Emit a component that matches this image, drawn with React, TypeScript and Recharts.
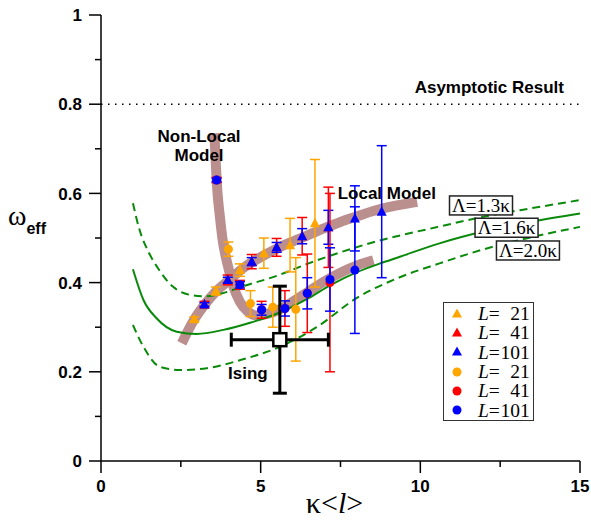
import React from 'react'
import {
  ComposedChart, Line, Scatter, XAxis, YAxis, ErrorBar, ReferenceLine, ReferenceDot,
} from 'recharts'

// kappa<l> ticks and omega ticks
const xTicks = [0, 2.5, 5, 7.5, 10, 12.5, 15]
const yTicks = [0, 0.1, 0.2, 0.3, 0.4, 0.5, 0.6, 0.7, 0.8, 0.9, 1]

// triangles
const tri21 = [
  { k: 2.92, w: 0.318, e: 0.005 }, { k: 3.6, w: 0.381, e: 0.009 }, { k: 4.35, w: 0.428, e: 0.014 },
  { k: 5.1, w: 0.466, e: 0.034 }, { k: 5.92, w: 0.484, e: 0.06 }, { k: 6.7, w: 0.533, e: 0.143 },
]
const tri41 = [
  { k: 3.24, w: 0.351, e: 0.007 }, { k: 3.97, w: 0.406, e: 0.011 }, { k: 4.72, w: 0.447, e: 0.016 },
  { k: 5.5, w: 0.479, e: 0.02 }, { k: 6.3, w: 0.504, e: 0.042 }, { k: 7.12, w: 0.524, e: 0.09 },
]
const tri101 = [
  { k: 3.24, w: 0.351, e: 0.004 }, { k: 3.97, w: 0.406, e: 0.006 }, { k: 4.72, w: 0.447, e: 0.009 },
  { k: 5.5, w: 0.479, e: 0.011 }, { k: 6.3, w: 0.504, e: 0.017 }, { k: 7.12, w: 0.524, e: 0.038 },
  { k: 7.95, w: 0.544, e: 0.073 }, { k: 8.79, w: 0.559, e: 0.148 },
]
// circles
const circ21 = [
  { k: 3.99, w: 0.475, e: 0.016 }, { k: 4.68, w: 0.353, e: 0.029 },
  { k: 5.38, w: 0.345, e: 0.045 }, { k: 6.1, w: 0.34, e: 0.116 },
]
const circ41 = [
  { k: 3.62, w: 0.63, e: 0.006 }, { k: 4.35, w: 0.395, e: 0.01 }, { k: 5.03, w: 0.339, e: 0.019 },
  { k: 5.76, w: 0.342, e: 0.04 }, { k: 6.46, w: 0.376, e: 0.088 }, { k: 7.17, w: 0.4, e: 0.2 },
]
const circ101 = [
  { k: 3.62, w: 0.63, e: 0.004 }, { k: 4.35, w: 0.395, e: 0.007 }, { k: 5.03, w: 0.339, e: 0.012 },
  { k: 5.76, w: 0.342, e: 0.017 }, { k: 6.46, w: 0.376, e: 0.035 }, { k: 7.17, w: 0.407, e: 0.071 },
  { k: 7.95, w: 0.428, e: 0.142 },
]
const ising = [{ k: 5.6, w: 0.272, ex: 1.52, ey: 0.12 }]

// model bands
const localModel = [
  { k: 2.53, w: 0.264 }, { k: 2.9, w: 0.315 }, { k: 3.24, w: 0.35 }, { k: 3.6, w: 0.38 },
  { k: 4.0, w: 0.405 }, { k: 4.5, w: 0.435 }, { k: 5.0, w: 0.457 }, { k: 5.5, w: 0.476 },
  { k: 6.0, w: 0.492 }, { k: 6.5, w: 0.507 }, { k: 7.0, w: 0.522 }, { k: 7.5, w: 0.536 },
  { k: 8.0, w: 0.548 }, { k: 8.5, w: 0.56 }, { k: 9.0, w: 0.569 }, { k: 9.5, w: 0.576 }, { k: 9.9, w: 0.581 },
]
const nonLocalModel = [
  { k: 3.55, w: 0.735 }, { k: 3.6, w: 0.66 }, { k: 3.65, w: 0.6 }, { k: 3.72, w: 0.55 },
  { k: 3.8, w: 0.5 }, { k: 3.9, w: 0.46 }, { k: 4.0, w: 0.43 }, { k: 4.15, w: 0.39 },
  { k: 4.35, w: 0.357 }, { k: 4.6, w: 0.335 }, { k: 4.9, w: 0.326 }, { k: 5.2, w: 0.33 },
  { k: 5.6, w: 0.34 }, { k: 6.0, w: 0.357 }, { k: 6.5, w: 0.38 }, { k: 7.0, w: 0.403 },
  { k: 7.5, w: 0.422 }, { k: 8.0, w: 0.438 }, { k: 8.53, w: 0.45 },
]

// cutoff curves
const lam13 = [
  { k: 1.0, w: 0.578 }, { k: 1.2, w: 0.52 }, { k: 1.5, w: 0.467 }, { k: 1.75, w: 0.436 },
  { k: 2.25, w: 0.391 }, { k: 2.75, w: 0.373 }, { k: 3.25, w: 0.369 }, { k: 3.75, w: 0.375 },
  { k: 4.5, w: 0.393 }, { k: 5.5, w: 0.415 }, { k: 6.5, w: 0.443 }, { k: 7.5, w: 0.468 },
  { k: 8.5, w: 0.49 }, { k: 9.5, w: 0.508 }, { k: 10.5, w: 0.524 }, { k: 12, w: 0.548 },
  { k: 13.5, w: 0.567 }, { k: 15, w: 0.585 },
]
const lam16 = [
  { k: 1.0, w: 0.43 }, { k: 1.33, w: 0.361 }, { k: 1.74, w: 0.32 }, { k: 2.37, w: 0.29 },
  { k: 3.0, w: 0.285 }, { k: 3.83, w: 0.294 }, { k: 4.67, w: 0.31 }, { k: 5.6, w: 0.333 },
  { k: 6.5, w: 0.365 }, { k: 7.2, w: 0.395 }, { k: 8.0, w: 0.423 }, { k: 8.74, w: 0.443 },
  { k: 9.36, w: 0.458 }, { k: 10.6, w: 0.488 }, { k: 12, w: 0.515 }, { k: 13.5, w: 0.537 }, { k: 15, w: 0.555 },
]
const lam20 = [
  { k: 1.0, w: 0.305 }, { k: 1.33, w: 0.256 }, { k: 1.85, w: 0.211 }, { k: 2.47, w: 0.204 },
  { k: 3.31, w: 0.208 }, { k: 4.35, w: 0.226 }, { k: 5.6, w: 0.256 }, { k: 6.75, w: 0.3 },
  { k: 8.0, w: 0.365 }, { k: 9.36, w: 0.412 }, { k: 10.6, w: 0.443 }, { k: 12, w: 0.475 },
  { k: 13.5, w: 0.502 }, { k: 15, w: 0.525 },
]

const notes = [
  { text: 'Asymptotic Result', k: 12.16, w: 0.839 },
  { text: 'Local Model', k: 8.95, w: 0.602 },
  { text: 'Ising', k: 4.6, w: 0.197 },
]
const lambdaNotes = [
  { text: 'Λ=1.3κ', k: 11.9, w: 0.573 },
  { text: 'Λ=1.6κ', k: 12.7, w: 0.523 },
  { text: 'Λ=2.0κ', k: 13.37, w: 0.472 },
]
const legendRows = [
  { shape: 'tri', color: '#ffa500', L: '21' },
  { shape: 'tri', color: '#ff0000', L: '41' },
  { shape: 'tri', color: '#0000ff', L: '101' },
  { shape: 'dot', color: '#ffa500', L: '21' },
  { shape: 'dot', color: '#ff0000', L: '41' },
  { shape: 'dot', color: '#0000ff', L: '101' },
]

const GREEN = '#0a8a0a'
const BAND = '#bc8f8f'
const sans = '"Liberation Sans", Arial, sans-serif'
const serif = '"Liberation Serif", "Times New Roman", serif'

const triShape = (color: string) => (p: any) => (
  <polygon points={`${p.cx},${p.cy - 5.5} ${p.cx + 5},${p.cy + 4} ${p.cx - 5},${p.cy + 4}`} fill={color} />
)
const dotShape = (color: string) => (p: any) => <circle cx={p.cx} cy={p.cy} r={4.5} fill={color} />
const squareShape = (p: any) => (
  <rect x={p.cx - 6.5} y={p.cy - 6.5} width={13} height={13} fill="#fff" stroke="#000" strokeWidth={2.5} />
)

const XTick = (p: any) => {
  const v = p.payload.value
  const major = v % 5 === 0
  return (
    <g>
      <line x1={p.x} x2={p.x} y1={p.y} y2={p.y + (major ? 12 : 6)} stroke="#000" strokeWidth={1.5} />
      {major && (
        <text x={p.x} y={p.y + 31} textAnchor="middle" fontFamily={sans} fontWeight="bold" fontSize={17}>{v}</text>
      )}
    </g>
  )
}
const YTick = (p: any) => {
  const v = p.payload.value
  const major = Math.round(v * 10) % 2 === 0
  return (
    <g>
      <line x1={p.x - (major ? 12 : 6)} x2={p.x} y1={p.y} y2={p.y} stroke="#000" strokeWidth={1.5} />
      {major && (
        <text x={p.x - 19} y={p.y} dy="0.36em" textAnchor="end" fontFamily={sans} fontWeight="bold" fontSize={17}>{v}</text>
      )}
    </g>
  )
}

const Legend6 = () => (
  <div style={{
    position: 'absolute', left: 443, top: 302, width: 91, height: 119, border: '1.5px solid #333',
    background: '#fff', fontFamily: serif, fontSize: 19.5, boxSizing: 'border-box', paddingTop: 1,
  }}>
    {legendRows.map((r, i) => (
      <div key={i} style={{ display: 'flex', alignItems: 'center', height: 19.3, lineHeight: '19px' }}>
        <svg width={26} height={14}>
          {r.shape === 'tri'
            ? <polygon points="13,1.5 18,10.5 8,10.5" fill={r.color} />
            : <circle cx={13} cy={7} r={4.5} fill={r.color} />}
        </svg>
        <span style={{ marginLeft: 8, fontStyle: 'italic' }}>L</span>
        <span>=</span>
        <span style={{ width: 30, textAlign: 'right' }}>{r.L}</span>
      </div>
    ))}
  </div>
)

export default function App() {
  return (
    <div style={{ position: 'absolute', left: 0, top: 0, width: 591, height: 521, background: '#fff' }}>
      <ComposedChart width={591} height={521} margin={{ top: 15, right: 11, bottom: 30, left: 41 }}>
        <XAxis
          dataKey="k" type="number" domain={[0, 15]} ticks={xTicks} interval={0}
          tickSize={0} tickMargin={0} tickLine={false} tick={<XTick />} height={30}
          axisLine={{ stroke: '#000', strokeWidth: 1.5 }}
          label={{
            content: (p: any) => {
              const vb = p.viewBox
              return (
                <text x={vb.x + vb.width / 2 - 6} y={vb.y + 52} textAnchor="middle" fontFamily={serif} fontSize={30}>
                  κ&lt;<tspan fontStyle="italic">l</tspan>&gt;
                </text>
              )
            },
          }}
        />
        <YAxis
          dataKey="w" type="number" domain={[0, 1]} ticks={yTicks} interval={0}
          tickSize={0} tickMargin={0} tickLine={false} tick={<YTick />} width={60}
          axisLine={{ stroke: '#000', strokeWidth: 1.5 }}
          label={{
            content: () => (
              <text x={8} y={225} fontSize={28} fontFamily={serif}>
                ω<tspan fontFamily={sans} fontWeight="bold" fontSize={16} dy={9}>eff</tspan>
              </text>
            ),
          }}
        />
        <ReferenceLine y={0.8} stroke="#000" strokeWidth={1.5} strokeDasharray="1.5 5.5" />

        <Line data={localModel} dataKey="w" type="monotone" stroke={BAND} strokeWidth={10} strokeLinecap="butt" dot={false} isAnimationActive={false} />
        <Line data={nonLocalModel} dataKey="w" type="monotone" stroke={BAND} strokeWidth={10} strokeLinecap="butt" dot={false} isAnimationActive={false} />

        <Line data={lam13} dataKey="w" type="monotone" stroke={GREEN} strokeWidth={2} strokeDasharray="8 5" dot={false} isAnimationActive={false} />
        <Line data={lam16} dataKey="w" type="monotone" stroke={GREEN} strokeWidth={2} dot={false} isAnimationActive={false} />
        <Line data={lam20} dataKey="w" type="monotone" stroke={GREEN} strokeWidth={2} strokeDasharray="8 5" dot={false} isAnimationActive={false} />

        <Scatter data={tri21} shape={triShape('#ffa500')} isAnimationActive={false}>
          <ErrorBar dataKey="e" direction="y" width={5} stroke="#ffa500" strokeWidth={1.5} />
        </Scatter>
        <Scatter data={tri41} shape={triShape('#ff0000')} isAnimationActive={false}>
          <ErrorBar dataKey="e" direction="y" width={5} stroke="#ff0000" strokeWidth={1.5} />
        </Scatter>
        <Scatter data={tri101} shape={triShape('#0000ff')} isAnimationActive={false}>
          <ErrorBar dataKey="e" direction="y" width={5} stroke="#0000ff" strokeWidth={1.5} />
        </Scatter>
        <Scatter data={circ21} shape={dotShape('#ffa500')} isAnimationActive={false}>
          <ErrorBar dataKey="e" direction="y" width={5} stroke="#ffa500" strokeWidth={1.5} />
        </Scatter>
        <Scatter data={circ41} shape={dotShape('#ff0000')} isAnimationActive={false}>
          <ErrorBar dataKey="e" direction="y" width={5} stroke="#ff0000" strokeWidth={1.5} />
        </Scatter>
        <Scatter data={circ101} shape={dotShape('#0000ff')} isAnimationActive={false}>
          <ErrorBar dataKey="e" direction="y" width={5} stroke="#0000ff" strokeWidth={1.5} />
        </Scatter>
        <Scatter data={ising} shape={squareShape} isAnimationActive={false}>
          <ErrorBar dataKey="ex" direction="x" width={7} stroke="#000" strokeWidth={3} />
          <ErrorBar dataKey="ey" direction="y" width={7} stroke="#000" strokeWidth={3} />
        </Scatter>

        {notes.map(n => (
          <ReferenceDot key={n.text} x={n.k} y={n.w} r={0}
            shape={(p: any) => (
              <text x={p.cx} y={p.cy} dy="0.36em" textAnchor="middle" fontFamily={sans} fontWeight="bold" fontSize={17}>{n.text}</text>
            )} />
        ))}
        <ReferenceDot x={3.07} y={0.729} r={0}
          shape={(p: any) => (
            <text x={p.cx} y={p.cy} dy="0.36em" textAnchor="middle" fontFamily={sans} fontWeight="bold" fontSize={17}>
              <tspan x={p.cx}>Non-Local</tspan>
              <tspan x={p.cx} dy={19}>Model</tspan>
            </text>
          )} />
        {lambdaNotes.map(n => (
          <ReferenceDot key={n.text} x={n.k} y={n.w} r={0}
            shape={(p: any) => (
              <g>
                <rect x={p.cx - 31.5} y={p.cy - 9.5} width={63} height={19} fill="#fff" stroke="#222" strokeWidth={1.5} />
                <text x={p.cx} y={p.cy} dy="0.34em" textAnchor="middle" fontFamily={serif} fontSize={19}>{n.text}</text>
              </g>
            )} />
        ))}
      </ComposedChart>
      <Legend6 />
    </div>
  )
}
